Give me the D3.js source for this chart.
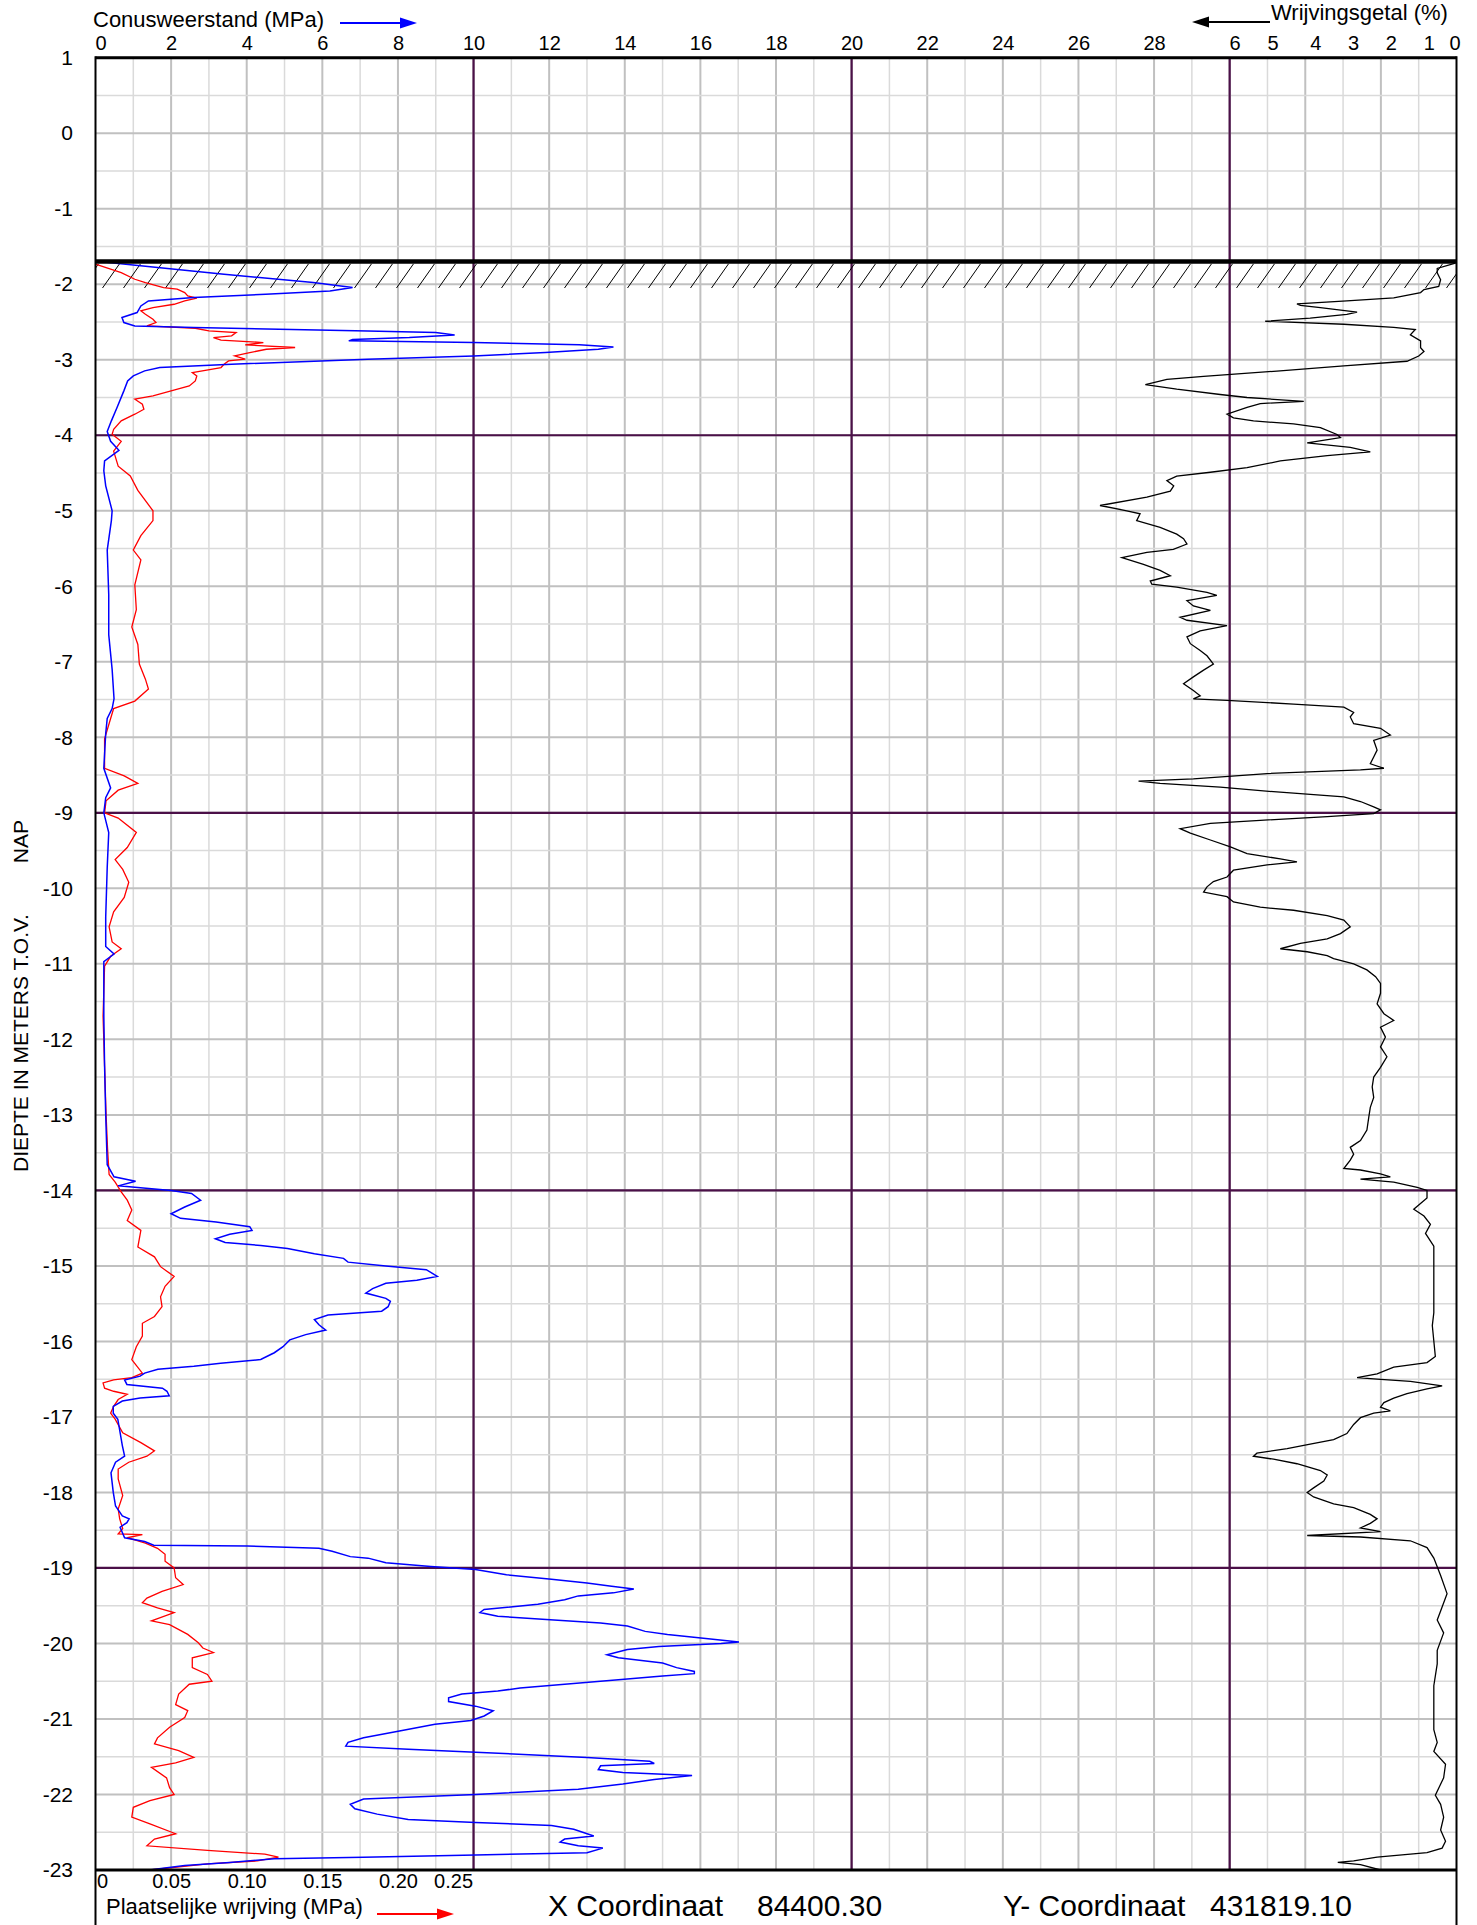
<!DOCTYPE html>
<html>
<head>
<meta charset="utf-8">
<style>
body{ margin:0; background:#fff; }
text{ font-family: "Liberation Sans", Arial, sans-serif; fill:#000; }
</style>
<script src="https://d3js.org/d3.v7.min.js"></script>
</head>
<body>
<script>
var w = 1477;
var h = 1925;
var plotLeft = 95.5, plotRight = 1456.5, plotTop = 57.7, plotBottom = 1870;

// [depth m NAP, cone resistance MPa]
var coneResistance = [
[-1.70,0.1],[-1.735,0.8],[-1.868,3.4],[-1.978,5.76],[-2.044,6.8],[-2.088,6.2],[-2.132,4.5],[-2.177,2.6],
[-2.221,1.4],[-2.287,1.2],[-2.375,1.1],[-2.441,0.7],[-2.507,0.75],[-2.552,1.04],[-2.574,2.6],[-2.618,7.2],
[-2.640,9.0],[-2.671,9.5],[-2.706,8.3],[-2.733,6.8],[-2.750,6.7],[-2.772,10.0],[-2.803,12.8],[-2.830,13.7],
[-2.861,13.3],[-2.905,11.9],[-2.949,10.0],[-2.993,7.2],[-3.059,3.6],[-3.103,1.7],[-3.147,1.3],[-3.214,1.0],
[-3.280,0.85],[-3.412,0.75],[-3.633,0.57],[-3.809,0.42],[-3.95,0.31],[-4.08,0.40],[-4.20,0.62],[-4.34,0.24],
[-4.47,0.22],[-4.67,0.27],[-5.0,0.44],[-5.13,0.42],[-5.52,0.31],[-6.11,0.35],[-6.64,0.35],[-7.1,0.44],
[-7.49,0.49],[-7.62,0.44],[-7.75,0.31],[-7.95,0.27],[-8.41,0.22],[-8.67,0.40],[-8.80,0.27],[-9.0,0.22],
[-9.26,0.35],[-9.72,0.31],[-10.38,0.27],[-10.77,0.27],[-10.87,0.49],[-10.97,0.22],[-11.69,0.22],[-12.35,0.24],
[-13.0,0.27],[-13.66,0.31],[-13.82,0.49],[-13.88,1.06],[-13.94,0.6],[-14.0,2.0],[-14.04,2.54],[-14.13,2.78],
[-14.22,2.36],[-14.31,2.0],[-14.37,2.25],[-14.42,3.19],[-14.48,4.08],[-14.53,4.14],[-14.58,3.55],[-14.64,3.17],
[-14.69,3.43],[-14.73,4.37],[-14.77,5.08],[-14.84,5.79],[-14.90,6.56],[-14.95,6.68],[-15.0,7.68],[-15.05,8.75],
[-15.14,9.04],[-15.19,8.5],[-15.23,7.68],[-15.30,7.33],[-15.36,7.15],[-15.43,7.68],[-15.47,7.8],[-15.54,7.74],
[-15.60,7.57],[-15.65,6.15],[-15.71,5.79],[-15.78,5.91],[-15.85,6.09],[-15.91,5.56],[-15.98,5.14],[-16.07,4.96],
[-16.15,4.73],[-16.24,4.37],[-16.29,3.31],[-16.33,2.6],[-16.37,1.65],[-16.42,1.3],[-16.46,1.18],[-16.51,0.77],
[-16.57,0.83],[-16.62,1.77],[-16.66,1.89],[-16.72,1.95],[-16.75,1.18],[-16.79,0.71],[-16.86,0.47],[-16.95,0.47],
[-17.03,0.59],[-17.38,0.71],[-17.52,0.77],[-17.60,0.53],[-17.74,0.41],[-18.0,0.47],[-18.18,0.53],[-18.31,0.71],
[-18.35,0.89],[-18.40,0.83],[-18.46,0.65],[-18.60,0.77],[-18.65,1.3],[-18.70,1.54],[-18.71,4.02],[-18.74,5.91],
[-18.78,6.26],[-18.85,6.74],[-18.87,7.21],[-18.93,7.68],[-18.98,8.87],[-19.02,10.05],[-19.09,10.87],[-19.15,12.06],
[-19.20,13.0],[-19.24,13.6],[-19.28,14.24],[-19.33,13.7],[-19.37,12.77],[-19.42,12.41],[-19.48,11.7],[-19.55,10.28],
[-19.59,10.17],[-19.64,10.64],[-19.68,11.82],[-19.73,13.36],[-19.77,14.07],[-19.84,14.54],[-19.88,15.13],[-19.93,16.08],
[-19.98,17.02],[-20.0,16.55],[-20.04,14.9],[-20.08,14.07],[-20.15,13.53],[-20.19,13.83],[-20.26,15.0],[-20.32,15.37],
[-20.37,15.84],[-20.40,15.84],[-20.43,15.0],[-20.48,13.83],[-20.54,12.41],[-20.59,11.23],[-20.63,10.64],[-20.67,9.69],
[-20.72,9.34],[-20.77,9.34],[-20.83,10.05],[-20.89,10.52],[-20.96,10.28],[-21.02,9.93],[-21.07,8.98],[-21.16,8.04],
[-21.25,7.09],[-21.31,6.68],[-21.36,6.62],[-21.40,8.27],[-21.44,10.05],[-21.51,13.0],[-21.56,14.66],[-21.59,14.78],
[-21.62,13.36],[-21.67,13.3],[-21.71,13.95],[-21.75,15.78],[-21.80,14.78],[-21.86,13.95],[-21.93,12.77],[-22.0,10.05],
[-22.06,7.09],[-22.13,6.74],[-22.19,6.86],[-22.26,7.45],[-22.33,8.27],[-22.37,10.05],[-22.41,12.06],[-22.46,12.65],
[-22.55,13.18],[-22.59,12.41],[-22.63,12.29],[-22.68,12.77],[-22.71,13.42],[-22.77,13.0],[-22.80,10.05],[-22.83,7.09],
[-22.85,4.73],[-22.90,3.55],[-22.94,2.36],[-23.0,1.42]
];

// [depth, local friction MPa]
var localFriction = [
[-1.735,0.000],[-1.779,0.007],[-1.846,0.017],[-1.934,0.026],[-1.978,0.033],[-2.044,0.045],[-2.066,0.054],[-2.110,0.059],
[-2.154,0.061],[-2.185,0.067],[-2.221,0.059],[-2.265,0.052],[-2.309,0.038],[-2.353,0.030],[-2.397,0.033],[-2.463,0.038],
[-2.507,0.040],[-2.552,0.034],[-2.583,0.066],[-2.618,0.075],[-2.640,0.093],[-2.684,0.090],[-2.706,0.078],[-2.741,0.083],
[-2.772,0.111],[-2.803,0.099],[-2.838,0.132],[-2.861,0.113],[-2.905,0.102],[-2.949,0.092],[-2.993,0.099],[-3.015,0.088],
[-3.059,0.085],[-3.103,0.083],[-3.169,0.064],[-3.214,0.067],[-3.280,0.066],[-3.346,0.062],[-3.412,0.050],[-3.478,0.038],
[-3.522,0.026],[-3.589,0.031],[-3.655,0.032],[-3.721,0.026],[-3.809,0.017],[-3.920,0.012],[-3.986,0.011],[-4.08,0.017],
[-4.21,0.012],[-4.41,0.015],[-4.54,0.023],[-4.73,0.028],[-5.00,0.038],[-5.13,0.038],[-5.33,0.030],[-5.52,0.025],
[-5.65,0.030],[-5.98,0.026],[-6.31,0.027],[-6.54,0.024],[-6.77,0.028],[-7.03,0.029],[-7.23,0.033],[-7.36,0.035],
[-7.52,0.026],[-7.62,0.012],[-7.75,0.010],[-8.02,0.006],[-8.41,0.006],[-8.51,0.019],[-8.61,0.028],[-8.70,0.015],
[-8.84,0.007],[-9.00,0.006],[-9.07,0.015],[-9.26,0.027],[-9.46,0.021],[-9.62,0.013],[-9.75,0.018],[-9.92,0.022],
[-10.12,0.019],[-10.31,0.012],[-10.51,0.009],[-10.71,0.011],[-10.80,0.017],[-10.90,0.010],[-11.03,0.006],[-11.69,0.005],
[-12.35,0.006],[-13.00,0.007],[-13.46,0.008],[-13.79,0.009],[-13.89,0.013],[-14.02,0.017],[-14.13,0.021],[-14.26,0.024],
[-14.40,0.021],[-14.53,0.030],[-14.75,0.028],[-14.88,0.039],[-15.01,0.043],[-15.14,0.052],[-15.27,0.046],[-15.41,0.043],
[-15.54,0.044],[-15.67,0.039],[-15.76,0.031],[-15.93,0.031],[-16.07,0.027],[-16.24,0.024],[-16.42,0.031],[-16.48,0.024],
[-16.51,0.012],[-16.55,0.005],[-16.62,0.006],[-16.66,0.012],[-16.70,0.021],[-16.77,0.015],[-16.86,0.012],[-16.95,0.010],
[-17.03,0.013],[-17.21,0.018],[-17.34,0.030],[-17.45,0.039],[-17.52,0.034],[-17.60,0.022],[-17.69,0.015],[-17.82,0.015],
[-18.04,0.018],[-18.22,0.015],[-18.35,0.016],[-18.48,0.018],[-18.55,0.015],[-18.56,0.031],[-18.60,0.021],[-18.67,0.033],
[-18.74,0.041],[-18.82,0.046],[-18.91,0.046],[-19.00,0.052],[-19.13,0.053],[-19.22,0.058],[-19.31,0.044],[-19.40,0.034],
[-19.46,0.031],[-19.53,0.041],[-19.59,0.052],[-19.70,0.037],[-19.75,0.049],[-19.88,0.061],[-19.99,0.068],[-20.06,0.071],
[-20.12,0.078],[-20.19,0.064],[-20.32,0.064],[-20.41,0.074],[-20.50,0.077],[-20.54,0.062],[-20.67,0.055],[-20.81,0.053],
[-20.89,0.061],[-20.98,0.059],[-21.11,0.049],[-21.25,0.041],[-21.33,0.039],[-21.42,0.055],[-21.51,0.065],[-21.58,0.053],
[-21.64,0.037],[-21.78,0.047],[-21.91,0.049],[-22.00,0.052],[-22.08,0.036],[-22.17,0.025],[-22.30,0.024],[-22.39,0.036],
[-22.52,0.053],[-22.59,0.039],[-22.68,0.034],[-22.74,0.074],[-22.79,0.112],[-22.83,0.121],[-22.88,0.107],[-22.92,0.074],
[-23.00,0.036]
];

// [depth, friction ratio %]
var frictionRatio = [
[-1.72,0.03],[-1.79,0.51],[-1.85,0.51],[-1.94,0.42],[-2.03,0.47],[-2.07,0.86],[-2.11,0.95],[-2.18,1.66],
[-2.22,2.9],[-2.26,4.22],[-2.28,4.13],[-2.31,3.6],[-2.37,2.63],[-2.40,2.9],[-2.45,3.87],[-2.49,5.06],
[-2.53,2.98],[-2.57,1.66],[-2.60,1.09],[-2.67,1.22],[-2.75,0.95],[-2.84,0.95],[-2.89,0.86],[-2.95,1.0],
[-3.02,1.31],[-3.08,2.98],[-3.15,4.75],[-3.22,6.69],[-3.26,7.66],[-3.33,8.23],[-3.39,7.4],[-3.46,6.25],
[-3.50,5.54],[-3.55,4.04],[-3.58,5.19],[-3.63,5.54],[-3.72,6.07],[-3.77,5.9],[-3.81,5.37],[-3.85,4.31],
[-3.90,3.6],[-3.99,3.16],[-4.03,3.07],[-4.10,3.95],[-4.16,2.81],[-4.22,2.28],[-4.27,3.42],[-4.34,4.66],
[-4.43,5.54],[-4.49,6.51],[-4.54,7.4],[-4.60,7.66],[-4.67,7.48],[-4.74,7.57],[-4.82,8.19],[-4.93,9.43],
[-5.0,8.72],[-5.04,8.37],[-5.13,8.46],[-5.22,7.84],[-5.31,7.4],[-5.37,7.22],[-5.44,7.13],[-5.51,7.49],
[-5.55,8.19],[-5.62,8.85],[-5.71,8.28],[-5.79,7.84],[-5.86,7.57],[-5.93,8.1],[-5.97,8.06],[-6.01,7.4],
[-6.08,6.6],[-6.12,6.34],[-6.19,7.13],[-6.26,6.96],[-6.32,6.51],[-6.41,7.31],[-6.45,7.13],[-6.52,6.07],
[-6.59,6.78],[-6.67,7.13],[-6.76,7.04],[-6.85,6.78],[-6.92,6.6],[-7.03,6.43],[-7.11,6.69],[-7.20,6.96],
[-7.29,7.22],[-7.38,6.96],[-7.45,6.78],[-7.49,6.96],[-7.51,6.07],[-7.56,4.31],[-7.60,2.98],[-7.67,2.72],
[-7.73,2.81],[-7.82,2.72],[-7.88,2.01],[-7.97,1.75],[-8.04,2.19],[-8.17,2.1],[-8.26,2.19],[-8.35,2.28],
[-8.41,1.92],[-8.43,2.54],[-8.48,5.01],[-8.55,6.96],[-8.58,8.41],[-8.61,7.84],[-8.66,6.25],[-8.72,4.84],
[-8.79,2.98],[-8.85,2.54],[-8.92,2.19],[-8.96,2.01],[-9.01,2.19],[-9.05,3.42],[-9.10,5.19],[-9.14,6.51],
[-9.21,7.31],[-9.27,7.04],[-9.36,6.51],[-9.45,5.98],[-9.54,5.54],[-9.61,4.66],[-9.65,4.22],[-9.69,5.01],
[-9.76,5.9],[-9.85,6.07],[-9.91,6.43],[-9.98,6.6],[-10.05,6.69],[-10.11,6.07],[-10.18,5.9],[-10.25,5.19],
[-10.29,4.31],[-10.36,3.42],[-10.42,2.98],[-10.51,2.81],[-10.60,3.07],[-10.67,3.42],[-10.73,4.13],[-10.80,4.66],
[-10.84,3.95],[-10.89,3.42],[-10.93,3.25],[-11.0,2.72],[-11.08,2.37],[-11.17,2.14],[-11.26,2.01],[-11.39,2.01],
[-11.53,2.1],[-11.66,1.92],[-11.75,1.66],[-11.84,2.01],[-11.97,1.88],[-12.10,2.01],[-12.23,1.84],[-12.37,2.01],
[-12.50,2.19],[-12.63,2.23],[-12.77,2.19],[-12.90,2.28],[-13.03,2.32],[-13.20,2.37],[-13.34,2.54],[-13.43,2.81],
[-13.52,2.72],[-13.60,2.81],[-13.71,2.98],[-13.73,2.54],[-13.78,2.01],[-13.82,1.75],[-13.85,2.54],[-13.89,1.66],
[-13.96,1.04],[-14.0,0.78],[-14.10,0.78],[-14.25,1.13],[-14.34,0.86],[-14.45,0.69],[-14.57,0.82],[-14.74,0.6],
[-15.03,0.6],[-15.62,0.6],[-15.79,0.64],[-16.20,0.56],[-16.28,0.78],[-16.34,1.66],[-16.43,2.1],[-16.48,2.63],
[-16.50,2.1],[-16.53,1.22],[-16.59,0.38],[-16.63,0.78],[-16.69,1.31],[-16.75,1.66],[-16.81,1.92],[-16.87,2.01],
[-16.92,1.75],[-16.95,2.19],[-17.01,2.54],[-17.10,2.72],[-17.22,2.9],[-17.30,3.25],[-17.36,3.87],[-17.42,4.48],
[-17.48,5.28],[-17.52,5.37],[-17.56,4.84],[-17.62,4.22],[-17.71,3.6],[-17.77,3.42],[-17.85,3.51],[-17.94,3.78],
[-18.0,3.95],[-18.06,3.78],[-18.15,3.25],[-18.20,2.72],[-18.29,2.28],[-18.35,2.1],[-18.41,2.28],[-18.47,2.54],
[-18.52,2.01],[-18.57,3.95],[-18.59,2.54],[-18.64,1.22],[-18.73,0.78],[-18.87,0.6],[-19.10,0.42],[-19.34,0.25],
[-19.57,0.42],[-19.69,0.51],[-19.86,0.34],[-20.09,0.51],[-20.27,0.51],[-20.56,0.6],[-20.85,0.6],[-21.14,0.6],
[-21.31,0.51],[-21.43,0.6],[-21.60,0.29],[-21.78,0.34],[-22.01,0.56],[-22.13,0.42],[-22.30,0.34],[-22.47,0.42],
[-22.62,0.29],[-22.71,0.38],[-22.77,0.78],[-22.83,2.1],[-22.88,2.72],[-22.90,3.14],[-22.93,2.54],[-23.0,2.01]
];

var depthTicks = [1,0,-1,-2,-3,-4,-5,-6,-7,-8,-9,-10,-11,-12,-13,-14,-15,-16,-17,-18,-19,-20,-21,-22,-23];
var coneTicks = [0,2,4,6,8,10,12,14,16,18,20,22,24,26,28];
var ratioTicks = [6,5,4,3,2,1,0];
var frictionTicks = [0,0.05,0.10,0.15,0.20,0.25];
var frictionLabels = ["0","0.05","0.10","0.15","0.20","0.25"];
var heavyDepths = [-4,-9,-14,-19];
var heavyCone = [10,20,30];
var groundLevel = -1.70;
var groundBase = -2.05;

var x = d3.scaleLinear().domain([0, 36]).range([plotLeft, plotRight]);
var xf = d3.scaleLinear().domain([0, 0.9]).range([plotLeft, plotRight]);
var xr = d3.scaleLinear().domain([36, 0]).range([plotLeft, plotRight]);
var y = d3.scaleLinear().domain([1, -23]).range([plotTop, plotBottom]);

var svg = d3.select("body").append("svg")
    .attr("width", w)
    .attr("height", h)
    .style("display", "block");

svg.append("defs").append("clipPath").attr("id", "plotclip")
   .append("rect")
   .attr("x", plotLeft).attr("y", plotTop)
   .attr("width", plotRight - plotLeft).attr("height", plotBottom - plotTop);

// grid
var grid = svg.append("g");
grid.selectAll(".vgrid")
    .data(d3.range(1, 36))
    .enter().append("line")
    .attr("x1", function(d){ return x(d); })
    .attr("x2", function(d){ return x(d); })
    .attr("y1", plotTop).attr("y2", plotBottom)
    .attr("stroke", function(d){ return d % 2 == 0 ? "#c0c0c0" : "#dadada"; })
    .attr("stroke-width", function(d){ return d % 2 == 0 ? 2 : 1.5; });

grid.selectAll(".hgrid")
    .data(d3.range(0, 48).map(function(i){ return 1 - i * 0.5; }))
    .enter().append("line")
    .attr("x1", plotLeft).attr("x2", plotRight)
    .attr("y1", function(d){ return y(d); })
    .attr("y2", function(d){ return y(d); })
    .attr("stroke", function(d){ return d % 1 == 0 ? "#c0c0c0" : "#dadada"; })
    .attr("stroke-width", function(d){ return d % 1 == 0 ? 2 : 1.5; });

grid.selectAll(".vheavy")
    .data(heavyCone)
    .enter().append("line")
    .attr("x1", function(d){ return x(d); })
    .attr("x2", function(d){ return x(d); })
    .attr("y1", plotTop).attr("y2", plotBottom)
    .attr("stroke", "#4b1048").attr("stroke-width", 2.2);

grid.selectAll(".hheavy")
    .data(heavyDepths)
    .enter().append("line")
    .attr("x1", plotLeft).attr("x2", plotRight)
    .attr("y1", function(d){ return y(d); })
    .attr("y2", function(d){ return y(d); })
    .attr("stroke", "#4b1048").attr("stroke-width", 2.2);

// hatching under ground level
var hatch = svg.append("g").attr("clip-path", "url(#plotclip)");
hatch.selectAll("line")
    .data(d3.range(plotLeft - 14, plotRight + 20, 21))
    .enter().append("line")
    .attr("x1", function(d){ return d; })
    .attr("y1", y(groundBase))
    .attr("x2", function(d){ return d + 17; })
    .attr("y2", y(groundLevel - 0.03))
    .attr("stroke", "#000").attr("stroke-width", 1);

// curves
var curves = svg.append("g").attr("clip-path", "url(#plotclip)");
var coneLine = d3.line().x(function(d){ return x(d[1]); }).y(function(d){ return y(d[0]); });
var fricLine = d3.line().x(function(d){ return xf(d[1]); }).y(function(d){ return y(d[0]); });
var ratioLine = d3.line().x(function(d){ return xr(d[1]); }).y(function(d){ return y(d[0]); });

curves.append("path").datum(localFriction)
    .attr("d", fricLine).attr("fill", "none")
    .attr("stroke", "#ff0000").attr("stroke-width", 1.3);
curves.append("path").datum(coneResistance)
    .attr("d", coneLine).attr("fill", "none")
    .attr("stroke", "#0000ff").attr("stroke-width", 1.5);
curves.append("path").datum(frictionRatio)
    .attr("d", ratioLine).attr("fill", "none")
    .attr("stroke", "#000").attr("stroke-width", 1.3);

// ground level
svg.append("line")
   .attr("x1", plotLeft).attr("x2", plotRight)
   .attr("y1", y(groundLevel)).attr("y2", y(groundLevel))
   .attr("stroke", "#000").attr("stroke-width", 4.5);

// frame
svg.append("line").attr("x1", plotLeft).attr("x2", plotRight)
   .attr("y1", plotTop).attr("y2", plotTop).attr("stroke", "#000").attr("stroke-width", 3);
svg.append("line").attr("x1", plotLeft).attr("x2", plotRight)
   .attr("y1", plotBottom).attr("y2", plotBottom).attr("stroke", "#000").attr("stroke-width", 3);
svg.append("line").attr("x1", plotLeft).attr("x2", plotLeft)
   .attr("y1", plotTop - 1.5).attr("y2", h).attr("stroke", "#000").attr("stroke-width", 2);
svg.append("line").attr("x1", plotRight).attr("x2", plotRight)
   .attr("y1", plotTop - 1.5).attr("y2", h).attr("stroke", "#000").attr("stroke-width", 2);

// axes
function styleAxis(g, size){
    g.attr("font-family", null).attr("font-size", null);
    g.select(".domain").remove();
    g.selectAll("text").style("font-size", size + "px");
}

var topAxis = svg.append("g").attr("transform", "translate(0,50)")
    .call(d3.axisTop(x).tickValues(coneTicks).tickSize(0).tickPadding(0));
styleAxis(topAxis, 20);
topAxis.selectAll("text").attr("dx", function(d){ return d === 0 ? 5 : 0; });

var ratioAxis = svg.append("g").attr("transform", "translate(0,50)")
    .call(d3.axisTop(xr).tickValues(ratioTicks).tickSize(0).tickPadding(0));
styleAxis(ratioAxis, 20);
ratioAxis.selectAll("text").attr("dx", function(d){
    if (d === 0) return -2;
    return d >= 5 ? 5 : 10;
});

var leftAxis = svg.append("g").attr("transform", "translate(73,0)")
    .call(d3.axisLeft(y).tickValues(depthTicks).tickSize(0).tickPadding(0).tickFormat(d3.format("d")));
styleAxis(leftAxis, 21);
leftAxis.selectAll("text").text(function(d){ return String(d); });

var bottomAxis = svg.append("g").attr("transform", "translate(0,1888)")
    .call(d3.axisBottom(xf).tickValues(frictionTicks).tickSize(0).tickPadding(0)
          .tickFormat(function(d, i){ return frictionLabels[i]; }));
styleAxis(bottomAxis, 20);
bottomAxis.selectAll("text").attr("y", 0).attr("dy", 0)
    .attr("text-anchor", function(d, i){ return i === 0 ? "start" : (i === frictionTicks.length - 1 ? "end" : "middle"); })
    .attr("dx", function(d, i){ return i === 0 ? 1 : (i === frictionTicks.length - 1 ? -1 : 0); });

// titles
svg.append("text").attr("x", 93).attr("y", 27).style("font-size", "22px").text("Conusweerstand (MPa)");
svg.append("text").attr("x", 1271).attr("y", 20).style("font-size", "22px").text("Wrijvingsgetal (%)");
svg.append("text").attr("x", 106).attr("y", 1914).style("font-size", "22px").text("Plaatselijke wrijving (MPa)");

svg.append("text").attr("transform", "translate(28,1172) rotate(-90)")
   .style("font-size", "21px").text("DIEPTE IN METERS T.O.V.");
svg.append("text").attr("transform", "translate(28,820) rotate(-90)")
   .attr("text-anchor", "end").style("font-size", "21px").text("NAP");

svg.append("text").attr("x", 548).attr("y", 1916).style("font-size", "30px").text("X Coordinaat");
svg.append("text").attr("x", 757).attr("y", 1916).style("font-size", "30px").text("84400.30");
svg.append("text").attr("x", 1003).attr("y", 1916).style("font-size", "30px").text("Y- Coordinaat");
svg.append("text").attr("x", 1210).attr("y", 1916).style("font-size", "30px").text("431819.10");

// arrows
function arrow(x0, x1, yy, color){
    var dir = x1 > x0 ? 1 : -1;
    svg.append("line").attr("x1", x0).attr("x2", x1 - dir * 12).attr("y1", yy).attr("y2", yy)
       .attr("stroke", color).attr("stroke-width", 2);
    svg.append("path")
       .attr("d", "M" + x1 + "," + yy + "L" + (x1 - dir * 17) + "," + (yy - 5.5) + "L" + (x1 - dir * 17) + "," + (yy + 5.5) + "Z")
       .attr("fill", color);
}
arrow(340, 417, 23, "#0000ff");
arrow(1270, 1192, 22, "#000");
arrow(377, 454, 1914, "#ff0000");
</script>
</body>
</html>
